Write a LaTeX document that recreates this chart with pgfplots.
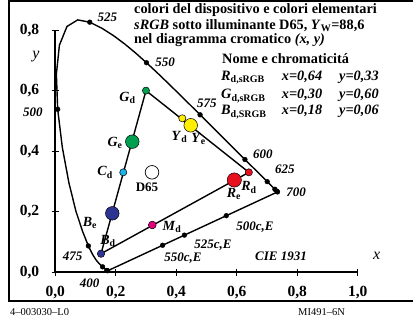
\documentclass[border=0pt]{standalone}
\usepackage{fontspec}
\setmainfont{Liberation Serif}
\usepackage{pgfplots}
\pgfplotsset{compat=1.18}
\definecolor{cR}{RGB}{232,16,30}
\definecolor{cG}{RGB}{0,160,80}
\definecolor{cY}{RGB}{255,238,0}
\definecolor{cB}{RGB}{46,52,146}
\definecolor{cC}{RGB}{30,178,230}
\definecolor{cM}{RGB}{230,0,126}
\newcommand\lab[2]{\textbf{\textit{#1}\textsubscript{#2}}}
\newcommand\wl{\bfseries\itshape\fontsize{13}{13}\selectfont}
\newcommand\tl{\bfseries\fontsize{14.3}{14.3}\selectfont}
\begin{document}
\begin{tikzpicture}
\begin{axis}[
  x=302.6pt, y=302.6pt,
  xmin=0, xmax=1, ymin=0, ymax=0.8,
  axis x line*=bottom, axis y line*=left,
  axis line style={line width=1.6pt},
  clip=false,
  xtick={0,0.2,0.4,0.6,0.8,1},
  ytick={0,0.2,0.4,0.6,0.8},
  tick align=center, major tick length=7pt,
  tick style={line width=1.2pt, black},
  /pgf/number format/use comma,
  /pgf/number format/fixed,
  /pgf/number format/fixed zerofill,
  /pgf/number format/precision=1,
  /pgf/number format/assume math mode=true,
  ticklabel style={font=\bfseries\fontsize{15.5}{15.5}\selectfont},
  xticklabel style={yshift=-7pt},
  yticklabel style={xshift=-9pt},
]
% spectral locus
\addplot[black, line width=1.4pt] coordinates {
(0.1741,0.0050)(0.1738,0.0049)(0.1733,0.0048)(0.1726,0.0048)(0.1714,0.0051)
(0.1703,0.0058)(0.1689,0.0069)(0.1669,0.0086)(0.1644,0.0109)(0.1611,0.0138)
(0.1566,0.0177)(0.1510,0.0227)(0.1440,0.0297)(0.1355,0.0399)(0.1241,0.0578)
(0.1096,0.0868)(0.0913,0.1327)(0.0687,0.2007)(0.0454,0.2950)(0.0235,0.4127)
(0.0082,0.5384)(0.0039,0.6548)(0.0139,0.7502)(0.0389,0.8120)(0.0743,0.8338)
(0.1142,0.8262)(0.1547,0.8059)(0.1929,0.7816)(0.2296,0.7543)(0.2658,0.7243)
(0.3016,0.6923)(0.3373,0.6589)(0.3731,0.6245)(0.4087,0.5896)(0.4441,0.5547)
(0.4788,0.5202)(0.5125,0.4866)(0.5448,0.4544)(0.5752,0.4242)(0.6029,0.3965)
(0.6270,0.3725)(0.6482,0.3514)(0.6658,0.3340)(0.6801,0.3197)(0.6915,0.3083)
(0.7006,0.2993)(0.7079,0.2920)(0.7140,0.2859)(0.7190,0.2809)(0.7230,0.2770)
(0.7260,0.2740)(0.7283,0.2717)(0.7300,0.2700)(0.7320,0.2680)(0.7334,0.2666)
(0.7347,0.2653)};
% purple line
\addplot[black, line width=1.4pt] coordinates {(0.1741,0.0050)(0.7347,0.2653)};
% sRGB triangle
\addplot[black, line width=1.4pt] coordinates {(0.64,0.33)(0.30,0.60)(0.1514,0.0611)(0.64,0.33)};
% wavelength dots
\addplot[only marks, mark=*, mark size=2.4pt, black] coordinates {
(0.1733,0.0048)(0.1703,0.0058)(0.1566,0.0177)(0.1096,0.0868)(0.0082,0.5384)
(0.1142,0.8262)(0.3016,0.6923)(0.4788,0.5202)(0.6270,0.3725)(0.7006,0.2993)
(0.7260,0.2740)(0.7327,0.2673)(0.7347,0.2653)
(0.3549,0.0890)(0.4270,0.1225)(0.5655,0.1868)};
% colour points
\addplot[only marks, mark=*, mark size=3.6pt, mark options={fill=cG, draw=black, line width=0.5pt}] coordinates {(0.30,0.60)};
\addplot[only marks, mark=*, mark size=6.8pt, mark options={fill=cG, draw=black, line width=0.5pt}] coordinates {(0.2548,0.4313)};
\addplot[only marks, mark=*, mark size=3.6pt, mark options={fill=cY, draw=black, line width=0.5pt}] coordinates {(0.4200,0.5086)};
\addplot[only marks, mark=*, mark size=6.8pt, mark options={fill=cY, draw=black, line width=0.5pt}] coordinates {(0.4478,0.4855)};
\addplot[only marks, mark=*, mark size=3.6pt, mark options={fill=cC, draw=black, line width=0.5pt}] coordinates {(0.2250,0.3300)};
\addplot[only marks, mark=*, mark size=6.8pt, mark options={fill=white, draw=black, line width=0.7pt}] coordinates {(0.3199,0.3301)};
\addplot[only marks, mark=*, mark size=6.8pt, mark options={fill=cB, draw=black, line width=0.5pt}] coordinates {(0.1887,0.1946)};
\addplot[only marks, mark=*, mark size=3.7pt, mark options={fill=cB, draw=black, line width=0.5pt}] coordinates {(0.1514,0.0611)};
\addplot[only marks, mark=*, mark size=3.9pt, mark options={fill=cM, draw=black, line width=0.5pt}] coordinates {(0.3209,0.1560)};
\addplot[only marks, mark=*, mark size=7.1pt, mark options={fill=cR, draw=black, line width=0.5pt}] coordinates {(0.5919,0.3047)};
\addplot[only marks, mark=*, mark size=3.6pt, mark options={fill=cR, draw=black, line width=0.5pt}] coordinates {(0.64,0.33)};
% wavelength labels
\node[font=\wl] at (axis cs:0.1728,0.8434) {525};
\node[font=\wl] at (axis cs:0.3629,0.6946) {550};
\node[font=\wl] at (axis cs:0.5016,0.5592) {575};
\node[font=\wl] at (axis cs:0.6867,0.3906) {600};
\node[font=\wl] at (axis cs:0.7594,0.3410) {625};
\node[font=\wl] at (axis cs:0.7958,0.2650) {700};
\node[font=\wl] at (axis cs:-0.0734,0.5294) {500};
\node[font=\wl] at (axis cs:0.0572,0.0535) {475};
\node[font=\wl] at (axis cs:0.1134,-0.0357) {400};
\node[font=\wl] at (axis cs:0.6603,0.1494) {500c,E};
\node[font=\wl] at (axis cs:0.5215,0.0899) {525c,E};
\node[font=\wl] at (axis cs:0.4223,0.0469) {550c,E};
\node[font=\wl] at (axis cs:0.7462,0.0535) {CIE 1931};
\node[font=\itshape\fontsize{16}{16}\selectfont] at (axis cs:1.0625,0.0535) {x};
\node[font=\itshape\fontsize{16}{16}\selectfont] at (axis cs:-0.0635,0.7112) {y};
% point labels
\node[font=\fontsize{14}{14}\selectfont] at (axis cs:0.2389,0.5757) {\lab{G}{d}};
\node[font=\fontsize{14}{14}\selectfont] at (axis cs:0.1976,0.4270) {\lab{G}{e}};
\node[font=\fontsize{14}{14}\selectfont] at (axis cs:0.4108,0.4468) {\lab{Y}{d}};
\node[font=\fontsize{14}{14}\selectfont] at (axis cs:0.4736,0.4402) {\lab{Y}{e}};
\node[font=\fontsize{14}{14}\selectfont] at (axis cs:0.1646,0.3295) {\lab{C}{d}};
\node[font=\bfseries\fontsize{13}{13}\selectfont] at (axis cs:0.3034,0.2816) {D65};
\node[font=\fontsize{14}{14}\selectfont] at (axis cs:0.1150,0.1626) {\lab{B}{e}};
\node[font=\fontsize{14}{14}\selectfont] at (axis cs:0.1745,0.1031) {\lab{B}{d}};
\node[font=\fontsize{14}{14}\selectfont] at (axis cs:0.3860,0.1494) {\lab{M}{d}};
\node[font=\fontsize{14}{14}\selectfont] at (axis cs:0.5909,0.2584) {\lab{R}{e}};
\node[font=\fontsize{14}{14}\selectfont] at (axis cs:0.6405,0.2799) {\lab{R}{d}};
% title block
\node[font=\tl, anchor=base west, inner sep=0pt] at (axis cs:0.2604,0.8540) {colori del dispositivo e colori elementari};
\node[font=\tl, anchor=base west, inner sep=0pt] at (axis cs:0.2604,0.8027) {\textit{sRGB} sotto illuminante D65, \textit{Y}\textsubscript{W}=88,6};
\node[font=\tl, anchor=base west, inner sep=0pt] at (axis cs:0.2604,0.7545) {nel diagramma cromatico \textit{(x, y)}};
\node[font=\tl, anchor=base west, inner sep=0pt] at (axis cs:0.5512,0.6904) {Nome e chromaticitá};
\node[font=\tl, anchor=base west, inner sep=0pt] at (axis cs:0.5479,0.6329) {\textit{R}\textsubscript{d,sRGB}};
\node[font=\tl, anchor=base west, inner sep=0pt] at (axis cs:0.5479,0.5724) {\textit{G}\textsubscript{d,sRGB}};
\node[font=\tl, anchor=base west, inner sep=0pt] at (axis cs:0.5479,0.5195) {\textit{B}\textsubscript{d,SRGB}};
\node[font=\tl\itshape, anchor=base west, inner sep=0pt] at (axis cs:0.7485,0.6329) {x=0,64};
\node[font=\tl\itshape, anchor=base west, inner sep=0pt] at (axis cs:0.7485,0.5724) {x=0,30};
\node[font=\tl\itshape, anchor=base west, inner sep=0pt] at (axis cs:0.7485,0.5195) {x=0,18};
\node[font=\tl\itshape, anchor=base west, inner sep=0pt] at (axis cs:0.9379,0.6329) {y=0,33};
\node[font=\tl\itshape, anchor=base west, inner sep=0pt] at (axis cs:0.9379,0.5724) {y=0,60};
\node[font=\tl\itshape, anchor=base west, inner sep=0pt] at (axis cs:0.9379,0.5195) {y=0,06};
% frame and footer
\draw[line width=2.2pt] (axis cs:-0.1527,-0.0945) rectangle (axis cs:1.25,0.8962);
\node[font=\fontsize{10.5}{10.5}\selectfont, anchor=west, inner sep=0pt] at (axis cs:-0.1494,-0.1315) {4--003030--L0};
\node[font=\fontsize{10.5}{10.5}\selectfont, anchor=west, inner sep=0pt] at (axis cs:0.8024,-0.1315) {MI491--6N};
\coordinate (bl) at (axis cs:-0.18242,-0.14805);
\coordinate (tr) at (axis cs:1.18242,0.89954);
\end{axis}
\pgfresetboundingbox
\path[use as bounding box] (bl) rectangle (tr);
\end{tikzpicture}
\end{document}
